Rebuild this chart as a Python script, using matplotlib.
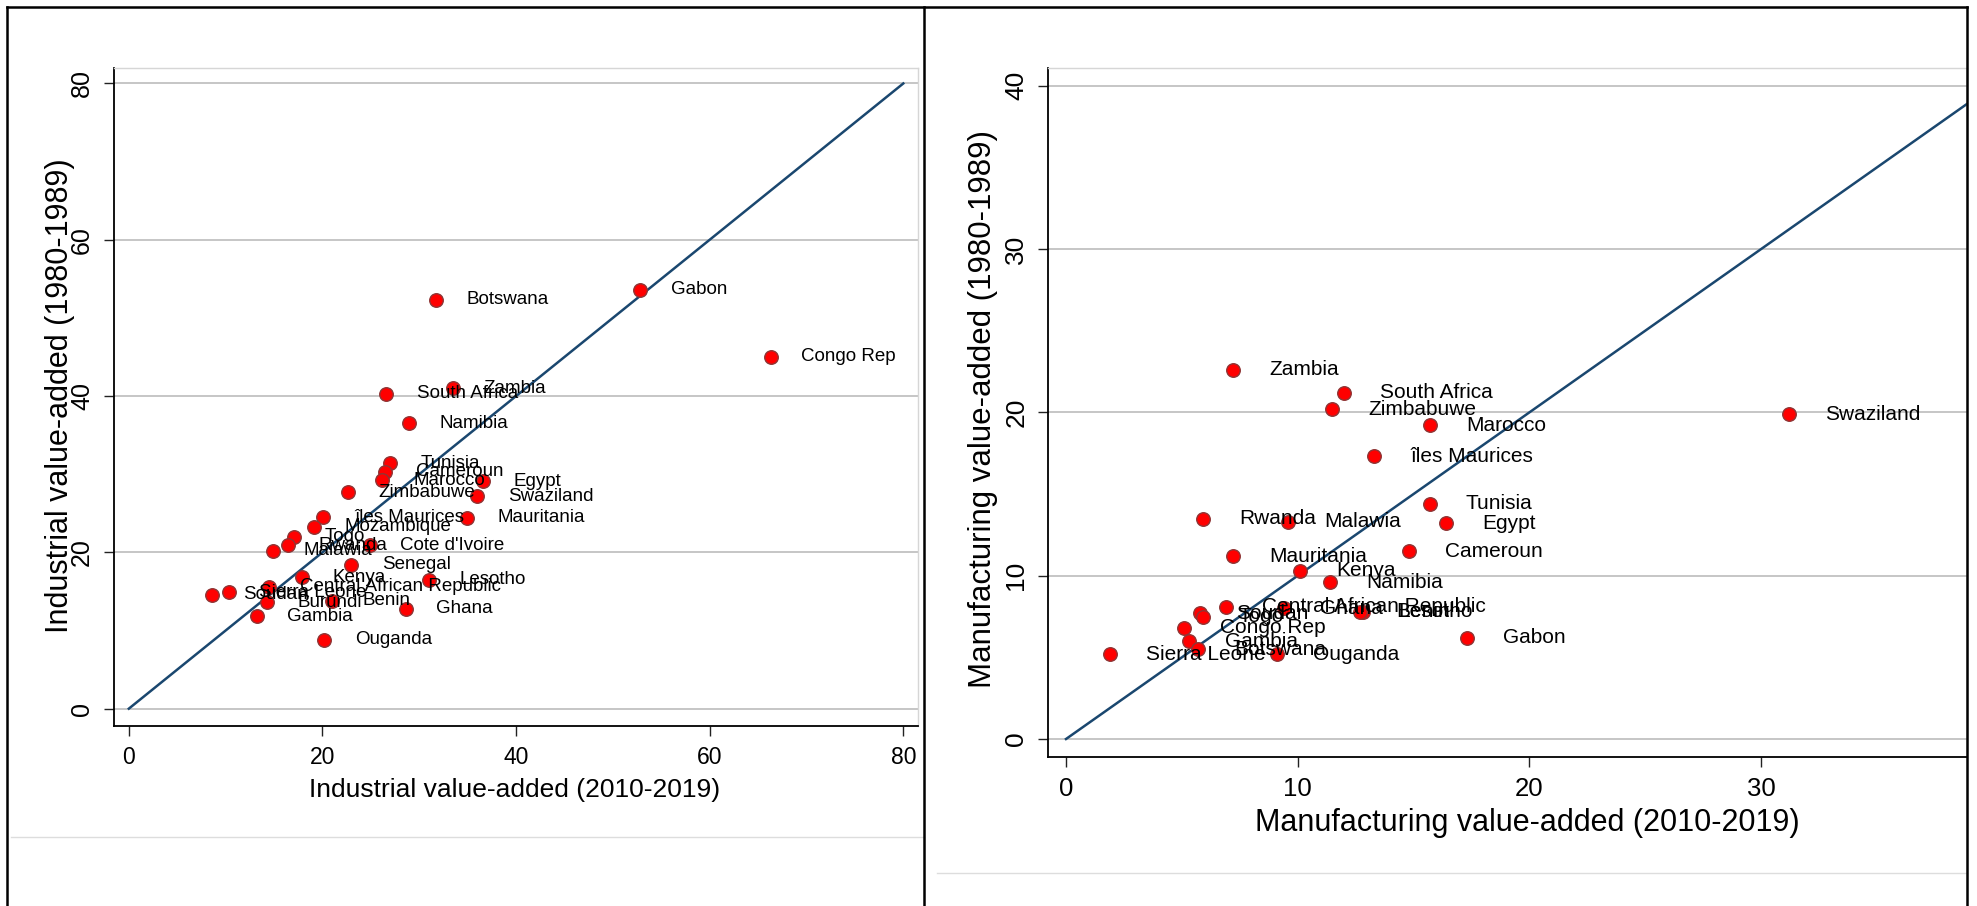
import numpy as np
import matplotlib as mpl
import matplotlib.pyplot as plt
from matplotlib.lines import Line2D

mpl.rcParams['font.family'] = ['Liberation Sans', 'DejaVu Sans']

# industrial value-added, share of GDP
ind_names = ['Botswana', 'Gabon', 'Congo Rep', 'South Africa', 'Zambia', 'Namibia',
             'Tunisia', 'Cameroun', 'Marocco', 'Egypt', 'Swaziland', 'Zimbabuwe',
             'Mauritania', 'îles Maurices', 'Mozambique', 'Togo', 'Rwanda', 'Malawia',
             "Cote d'Ivoire", 'Senegal', 'Kenya', 'Lesotho', 'Soudan', 'Sierra Leone',
             'Central African Republic', 'Burundi', 'Benin', 'Gambia', 'Ghana', 'Ouganda']
ind_2010 = [31.7, 52.8, 66.3, 26.6, 33.5, 28.9,
            27.0, 26.5, 26.2, 36.6, 36.0, 22.6,
            34.9, 20.1, 19.1, 17.1, 16.4, 14.9,
            24.9, 23.0, 17.9, 31.0, 8.6, 10.3,
            14.5, 14.3, 21.0, 13.2, 28.6, 20.2]
ind_1980 = [52.3, 53.6, 45.0, 40.3, 41.0, 36.5,
            31.4, 30.3, 29.2, 29.1, 27.2, 27.7,
            24.4, 24.5, 23.3, 22.0, 20.9, 20.2,
            20.9, 18.4, 16.8, 16.5, 14.6, 14.9,
            15.6, 13.6, 13.8, 11.8, 12.8, 8.8]

# manufacturing value-added, share of GDP
man_names = ['Zambia', 'South Africa', 'Zimbabuwe', 'Marocco', 'Swaziland', 'îles Maurices',
             'Tunisia', 'Egypt', 'Rwanda', 'Malawia', 'Mauritania', 'Cameroun',
             'Kenya', 'Namibia', 'Central African Republic', 'Ghana', 'Lesotho', 'Benin',
             'Soudan', 'Togo', 'Congo Rep', 'Gambia', 'Botswana', 'Sierra Leone',
             'Ouganda', 'Gabon']
man_2010 = [7.2, 12.0, 11.5, 15.7, 31.2, 13.3,
            15.7, 16.4, 5.9, 9.6, 7.2, 14.8,
            10.1, 11.4, 6.9, 9.4, 12.8, 12.7,
            5.8, 5.9, 5.1, 5.3, 5.7, 1.9,
            9.1, 17.3]
man_1980 = [22.6, 21.2, 20.2, 19.2, 19.9, 17.3,
            14.4, 13.2, 13.5, 13.3, 11.2, 11.5,
            10.3, 9.6, 8.1, 8.0, 7.8, 7.8,
            7.7, 7.5, 6.8, 6.0, 5.5, 5.2,
            5.2, 6.2]

W, H = 1977, 906
dpi = 100
fig = plt.figure(dpi=dpi, figsize=(W / dpi, H / dpi))

def px(x0, y0, x1, y1):
    return [x0 / W, 1 - y1 / H, (x1 - x0) / W, (y1 - y0) / H]

def panel(rect, xs, ys, names, xlim, ylim, xticks, yticks, diag, xfs, yfs, lab_fs, gap):
    ax = fig.add_axes(rect)
    ax.set_xlim(*xlim)
    ax.set_ylim(*ylim)
    ax.set_xticks(xticks)
    ax.set_yticks(yticks)
    ax.yaxis.grid(True, color='#c2c2c2', lw=1.3)
    ax.set_axisbelow(True)
    for s in ['top', 'right']:
        ax.spines[s].set_color('#d6d6d6')
        ax.spines[s].set_linewidth(1.0)
    for s in ['left', 'bottom']:
        ax.spines[s].set_color('black')
        ax.spines[s].set_linewidth(1.3)
    ax.tick_params(axis='both', direction='out', length=7.5, width=1.0, color='#222222')
    ax.tick_params(axis='x', pad=7, labelsize=xfs)
    ax.tick_params(axis='y', pad=7, labelrotation=90, labelsize=yfs)
    for t in ax.get_yticklabels():
        t.set_va('center')
    ax.plot([0, diag], [0, diag], color='#1a476f', lw=1.8, zorder=2)
    ax.scatter(xs, ys, s=95, color='#ff0000', edgecolors='#8e3535', linewidths=1.0, zorder=3)
    for n, x, y in zip(names, xs, ys):
        ax.annotate(n, (x, y), xytext=(gap, 0), textcoords='offset points',
                    ha='left', va='center', fontsize=lab_fs, color='black', zorder=4)
    return ax

ax1 = panel(px(114.3, 68, 918.3, 725.7), ind_2010, ind_1980, ind_names,
            (-1.5, 81.55), (-2.18, 81.98), [0, 20, 40, 60, 80], [0, 20, 40, 60, 80],
            80, 16.5, 18, 13.5, 22)
ax2 = panel(px(1048.3, 68, 1967, 757.3), man_2010, man_1980, man_names,
            (-0.764, 38.89), (-1.12, 41.09), [0, 10, 20, 30], [0, 10, 20, 30, 40],
            40, 18.5, 19, 15, 26)

fig.text(514.5 / W, 1 - 790 / H, 'Industrial value-added (2010-2019)',
         ha='center', va='center', fontsize=19)
fig.text(60 / W, 1 - 396 / H, 'Industrial value-added (1980-1989)',
         ha='center', va='center', rotation=90, fontsize=22)
fig.text(1527.5 / W, 1 - 823 / H, 'Manufacturing value-added (2010-2019)',
         ha='center', va='center', fontsize=22)
fig.text(983 / W, 1 - 409 / H, 'Manufacturing value-added (1980-1989)',
         ha='center', va='center', rotation=90, fontsize=22.5)

# panel frames and the faint outer-region lines
def fline(xa, ya, xb, yb, color, lw):
    fig.add_artist(Line2D([xa / W, xb / W], [1 - ya / H, 1 - yb / H],
                          transform=fig.transFigure, color=color, lw=lw))

fline(11, 836.7, 924, 836.7, '#dddddd', 1.0)
fline(937, 873.3, 1967, 873.3, '#dddddd', 1.0)
fline(7, 7, 1967, 7, 'black', 1.8)
fline(7, 7, 7, 906, 'black', 1.8)
fline(924, 7, 924, 906, 'black', 1.8)
fline(1967, 7, 1967, 906, 'black', 1.8)

plt.savefig('out.png', dpi=dpi)
